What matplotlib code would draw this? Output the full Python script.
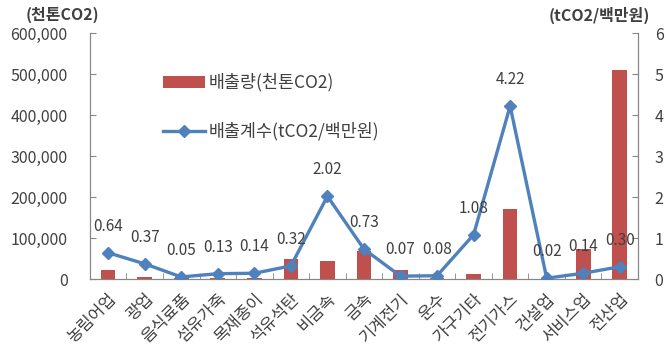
import numpy as np
import matplotlib.pyplot as plt

plt.rcParams['font.family'] = ['Noto Sans CJK KR', 'DejaVu Sans']

# 업종별 배출량과 배출계수
sectors = ['농림어업', '광업', '음식료품', '섬유가죽', '목재종이', '석유석탄', '비금속',
           '금속', '기계전기', '운수', '가구기타', '전기가스', '건설업', '서비스업', '전산업']
emission = [23000, 4000, 1500, 3000, 3000, 49000, 45000,
            68000, 23000, 2500, 13000, 171000, 1000, 73000, 510000]
coef = [0.64, 0.37, 0.05, 0.13, 0.14, 0.32, 2.02,
        0.73, 0.07, 0.08, 1.08, 4.22, 0.02, 0.14, 0.30]

bar_color = '#C0504D'
line_color = '#4F81BD'
spine_color = '#868686'
text_color = '#404040'

fig = plt.figure(figsize=(6.66, 3.64), dpi=100)
ax = fig.add_axes([0.135, 0.2335, 0.823, 0.6755])
ax2 = ax.twinx()

x = np.arange(len(sectors))
ax.bar(x, emission, width=0.4, color=bar_color, label='배출량(천톤CO2)', zorder=2)
ax2.plot(x, coef, color=line_color, lw=2.4, marker='D', ms=6,
         label='배출계수(tCO2/백만원)', zorder=3)

for xi, v in zip(x, coef):
    ax2.annotate(f'{v:.2f}', (xi, v), xytext=(0, 13), textcoords='offset points',
                 ha='center', va='bottom', fontsize=11, color=text_color)

ax.set_xlim(-0.5, len(sectors) - 0.5)
ax.set_ylim(0, 600000)
ax2.set_ylim(0, 6)
ax.set_yticks(np.arange(0, 600001, 100000))
ax.set_yticklabels([f'{v:,}' for v in range(0, 600001, 100000)])
ax2.set_yticks(range(7))

ax.set_xticks(x)
ax.set_xticklabels(sectors, rotation=45, ha='right', rotation_mode='anchor',
                   fontsize=12, color=text_color)
ax.set_xticks(np.arange(-0.5, len(sectors)), minor=True)
ax.tick_params(axis='x', which='major', length=0, pad=8)
ax.tick_params(axis='x', which='minor', length=4, direction='in', color=spine_color)

ax.tick_params(axis='y', direction='in', length=4, color=spine_color,
               labelsize=11.5, labelcolor=text_color, pad=16)
ax2.tick_params(axis='y', direction='in', length=4, color=spine_color,
                labelsize=11.5, labelcolor=text_color, pad=12)

for a in (ax, ax2):
    a.spines['top'].set_visible(False)
    for s in ('left', 'right', 'bottom'):
        a.spines[s].set_color(spine_color)

fig.text(0.093, 0.958, '(천톤CO2)', ha='center', va='center', fontsize=11.5,
         fontweight='bold', color=text_color)
fig.text(0.9, 0.958, '(tCO2/백만원)', ha='center', va='center', fontsize=11.5,
         fontweight='bold', color=text_color)

h1, l1 = ax.get_legend_handles_labels()
h2, l2 = ax2.get_legend_handles_labels()
ax2.legend(h1 + h2, l1 + l2, loc='upper left', bbox_to_anchor=(0.105, 0.9),
           frameon=False, fontsize=12.5, labelcolor=text_color,
           handlelength=2.4, labelspacing=1.75, handletextpad=0.2)

fig.savefig('out.png', dpi=100)
